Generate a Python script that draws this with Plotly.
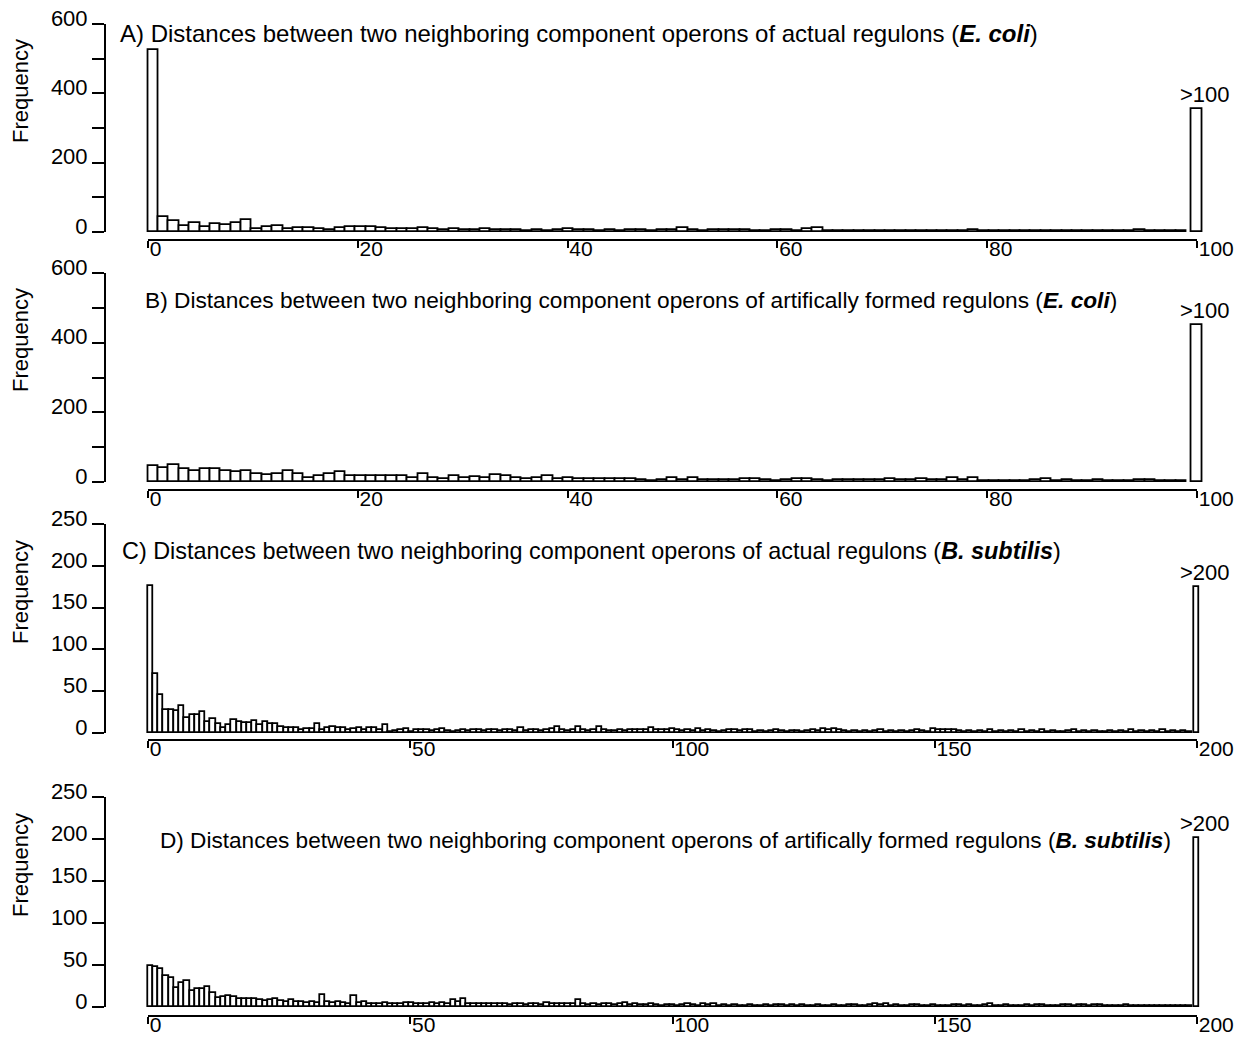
import plotly.graph_objects as go

# ---------------- data ----------------
ecoli_actual = [525, 44, 33, 17, 25, 13, 22, 19, 25, 35, 8, 13, 17, 8, 12, 12, 10, 7, 12, 14,
                14, 15, 12, 10, 8, 8, 12, 8, 5, 8, 7, 5, 10, 5, 6, 7, 4, 7, 4, 6,
                10, 6, 5, 4, 6, 4, 6, 5, 4, 7, 5, 12, 5, 4, 6, 6, 5, 7, 3, 4,
                5, 6, 4, 8, 11, 3, 2, 4, 3, 2, 4, 2, 3, 3, 4, 2, 3, 3, 2, 5,
                2, 3, 3, 2, 4, 2, 2, 3, 2, 3, 2, 3, 2, 3, 4, 5, 3, 2, 3, 2]
ecoli_actual_over = 355

ecoli_artificial = [45, 41, 50, 38, 32, 38, 38, 31, 29, 33, 22, 19, 24, 31, 22, 12, 18, 22, 28, 16,
                    16, 16, 16, 18, 16, 12, 22, 12, 10, 17, 12, 14, 12, 19, 18, 12, 10, 12, 16, 10,
                    12, 9, 8, 9, 8, 8, 9, 6, 4, 5, 12, 6, 12, 5, 6, 7, 6, 8, 8, 6,
                    4, 6, 10, 8, 5, 4, 7, 6, 7, 6, 7, 8, 6, 7, 8, 6, 7, 11, 5, 11,
                    4, 3, 4, 3, 4, 5, 8, 4, 7, 4, 3, 5, 4, 3, 4, 7, 5, 4, 3, 4]
ecoli_artificial_over = 451

bsub_actual = [176, 70, 45, 28, 27, 26, 32, 18, 22, 22, 25, 13, 17, 11, 6, 9, 15, 13, 12, 12,
               14, 9, 13, 11, 11, 7, 6, 6, 6, 3, 5, 5, 11, 3, 6, 7, 6, 6, 3, 5,
               6, 3, 6, 6, 3, 9, 1, 2, 4, 5, 1, 4, 4, 3, 2, 4, 5, 2, 1, 2,
               3, 2, 4, 3, 2, 4, 3, 2, 3, 4, 2, 6, 2, 3, 3, 2, 4, 5, 7, 3,
               2, 4, 7, 3, 2, 3, 7, 3, 2, 2, 3, 2, 3, 4, 3, 4, 6, 3, 4, 3,
               5, 3, 2, 3, 2, 5, 2, 3, 2, 1, 2, 3, 4, 2, 3, 4, 1, 2, 1, 2,
               3, 2, 1, 2, 2, 1, 2, 3, 2, 5, 4, 5, 4, 2, 1, 2, 1, 2, 1, 2,
               3, 1, 2, 1, 2, 1, 2, 4, 2, 1, 5, 3, 4, 3, 3, 2, 1, 2, 1, 2,
               1, 3, 1, 2, 1, 2, 1, 3, 1, 2, 1, 3, 1, 2, 1, 1, 2, 3, 1, 2,
               1, 2, 1, 1, 2, 1, 2, 1, 3, 1, 2, 1, 2, 1, 3, 1, 2, 1, 2, 1]
bsub_actual_over = 175

bsub_artificial = [49, 48, 45, 37, 34, 23, 28, 31, 19, 22, 21, 24, 17, 11, 12, 13, 12, 10, 9, 9,
                   10, 8, 7, 8, 9, 7, 6, 8, 6, 6, 5, 6, 5, 14, 6, 5, 6, 5, 4, 13,
                   5, 6, 4, 4, 3, 5, 4, 4, 3, 5, 5, 4, 3, 4, 5, 3, 5, 4, 8, 6,
                   9, 4, 3, 4, 3, 4, 3, 4, 3, 2, 3, 3, 2, 4, 3, 2, 5, 3, 4, 3,
                   4, 4, 8, 3, 2, 3, 2, 4, 3, 2, 3, 5, 2, 3, 2, 2, 3, 2, 1, 2,
                   2, 1, 2, 3, 2, 1, 4, 2, 4, 1, 2, 1, 2, 1, 1, 2, 1, 1, 2, 1,
                   2, 2, 1, 2, 1, 2, 1, 1, 2, 1, 1, 2, 1, 1, 2, 2, 1, 1, 2, 4,
                   2, 4, 1, 2, 1, 1, 2, 2, 1, 1, 2, 1, 1, 1, 2, 2, 1, 2, 1, 1,
                   2, 3, 1, 1, 2, 1, 1, 1, 2, 1, 2, 2, 1, 1, 1, 2, 2, 1, 2, 2,
                   1, 2, 2, 1, 1, 1, 1, 2, 1, 1, 1, 1, 1, 1, 1, 1, 1, 1, 1, 1]
bsub_artificial_over = 201

titles = [
    "A) Distances between two neighboring component operons of actual regulons (<b><i>E. coli</i></b>)",
    "B) Distances between two neighboring component operons of artifically formed regulons (<b><i>E. coli</i></b>)",
    "C) Distances between two neighboring component operons of actual regulons (<b><i>B. subtilis</i></b>)",
    "D) Distances between two neighboring component operons of artifically formed regulons (<b><i>B. subtilis</i></b>)",
]
over_labels = [">100", ">100", ">200", ">200"]
x_ticks_100 = [0, 20, 40, 60, 80, 100]
x_ticks_200 = [0, 50, 100, 150, 200]
y_ticks_600 = [0, 100, 200, 300, 400, 500, 600]
y_text_600 = ["0", "", "200", "", "400", "", "600"]
y_ticks_250 = [0, 50, 100, 150, 200, 250]

# ---------------- layout helpers ----------------
W, H = 1242, 1038
FONT = "Liberation Sans, Arial, sans-serif"
X0, X1 = 148, 1197          # pixel span of the tick axis (0 .. L)


def px(x):
    return x / W


def py(y):
    return 1 - y / H


panels = [
    dict(vals=ecoli_actual, over=ecoli_actual_over, L=100, xt=x_ticks_100, yt=y_ticks_600, ytt=y_text_600,
         ymax=600, ytop=24, ybot=232, xline=240, tx=118, ty=34, fy=91, ts=24),
    dict(vals=ecoli_artificial, over=ecoli_artificial_over, L=100, xt=x_ticks_100, yt=y_ticks_600, ytt=y_text_600,
         ymax=600, ytop=273, ybot=482, xline=490, tx=143, ty=300, fy=340, ts=22.7),
    dict(vals=bsub_actual, over=bsub_actual_over, L=200, xt=x_ticks_200, yt=y_ticks_250,
         ytt=[str(v) for v in y_ticks_250], ymax=250, ytop=524, ybot=733, xline=740, tx=120, ty=551, fy=592, ts=23.4),
    dict(vals=bsub_artificial, over=bsub_artificial_over, L=200, xt=x_ticks_200, yt=y_ticks_250,
         ytt=[str(v) for v in y_ticks_250], ymax=250, ytop=797, ybot=1007, xline=1016, tx=158, ty=840, fy=865, ts=22.6),
]

fig = go.Figure()
annotations = []
for k, p in enumerate(panels, start=1):
    bnum, tnum = 2 * k - 1, 2 * k
    bx = "x" if bnum == 1 else "x" + str(bnum)     # bar axis (hidden, slightly wider)
    tx = "x" + str(tnum)                           # tick axis (visible, 0..L)
    yy = "y" if k == 1 else "y" + str(k)
    bkey = "xaxis" if bnum == 1 else "xaxis" + str(bnum)
    ykey = "yaxis" if k == 1 else "yaxis" + str(k)
    n = len(p["vals"])
    L = p["L"]
    step = L / (n + 1)
    xs = [(i + 0.5) * step for i in range(n)] + [L]
    ys = list(p["vals"]) + [p["over"]]
    lo = -1.5 * step
    hi = L + 1.5 * step
    left = X0 + (X1 - X0) * lo / L
    right = X0 + (X1 - X0) * hi / L
    fig.add_trace(go.Scatter(x=[None], y=[None], xaxis=tx, yaxis=yy, showlegend=False,
                             hoverinfo="skip", mode="markers"))
    fig.add_trace(go.Bar(
        x=xs, y=ys, width=step, xaxis=bx, yaxis=yy,
        marker=dict(color="white", line=dict(color="black", width=1.8)),
        cliponaxis=False, showlegend=False, hoverinfo="skip",
    ))
    fig.layout[bkey] = dict(
        domain=[px(left), px(right)], range=[lo, hi], anchor=yy, visible=False,
        showgrid=False, zeroline=False, fixedrange=True,
    )
    fig.layout["xaxis" + str(tnum)] = dict(
        domain=[px(X0), px(X1)], range=[0, L], anchor="free", position=py(p["xline"]),
        showline=True, linecolor="black", linewidth=2, showgrid=False, zeroline=False,
        tickmode="array", tickvals=p["xt"], ticktext=[str(v) for v in p["xt"]],
        ticks="outside", ticklen=7, tickwidth=1.5, tickcolor="black",
        ticklabelposition="outside right", ticklabelstandoff=-10,
        tickfont=dict(family=FONT, size=21, color="black"), fixedrange=True,
    )
    fig.layout[ykey] = dict(
        domain=[py(p["ybot"]), py(p["ytop"])], range=[0, p["ymax"]], anchor="free", position=px(105),
        showline=True, linecolor="black", linewidth=2, showgrid=False, zeroline=False,
        tickmode="array", tickvals=p["yt"], ticktext=p["ytt"],
        ticks="outside", ticklen=12, tickwidth=1.5, tickcolor="black", ticklabelshift=-6,
        tickfont=dict(family=FONT, size=22, color="black"), fixedrange=True,
    )
    annotations.append(dict(
        text=titles[k - 1], x=px(p["tx"]), y=py(p["ty"]), xref="paper", yref="paper",
        xanchor="left", yanchor="middle", showarrow=False,
        font=dict(family=FONT, size=p["ts"], color="black"),
    ))
    annotations.append(dict(
        text="Frequency", x=px(20), y=py(p["fy"]), xref="paper", yref="paper",
        xanchor="center", yanchor="middle", showarrow=False, textangle=-90,
        font=dict(family=FONT, size=22, color="black"),
    ))
    annotations.append(dict(
        text=over_labels[k - 1], x=L, y=p["over"], xref=bx, yref=yy,
        xanchor="center", yanchor="bottom", showarrow=False, yshift=0, xshift=8,
        font=dict(family=FONT, size=22, color="black"),
    ))

fig.update_layout(
    width=W, height=H, autosize=False,
    margin=dict(l=0, r=0, t=0, b=0, pad=0, autoexpand=False),
    paper_bgcolor="white", plot_bgcolor="rgba(0,0,0,0)",
    bargap=0, annotations=annotations,
    font=dict(family=FONT, color="black"),
)

fig.write_html("out.html", config={"displayModeBar": False},
               post_script="document.body.style.margin='0';document.body.style.overflow='hidden';")
